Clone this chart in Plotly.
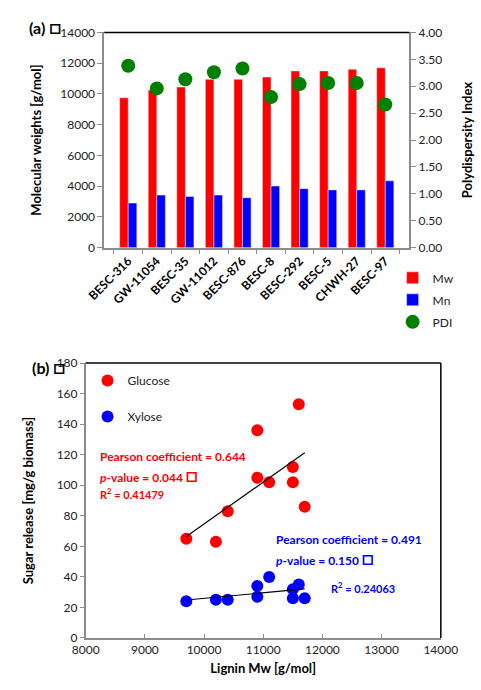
import numpy as np
import plotly.graph_objects as go

# ---------------- data ----------------
samples = ["BESC-316", "GW-11054", "BESC-35", "GW-11012", "BESC-876",
           "BESC-8", "BESC-292", "BESC-5", "CHWH-27", "BESC-97"]
mw = [9750, 10250, 10450, 10950, 10950, 11100, 11500, 11500, 11600, 11700]
mn = [2900, 3420, 3330, 3420, 3250, 4010, 3840, 3760, 3760, 4350]
pdi = [3.38, 2.96, 3.13, 3.26, 3.33, 2.80, 3.04, 3.06, 3.06, 2.66]

lignin_mw = [9700, 10200, 10400, 10900, 10900, 11100, 11500, 11500, 11600, 11700]
glucose = [65, 63, 83, 136, 105, 102, 112, 102, 153, 86]
xylose_x = [9700, 10200, 10400, 10900, 10900, 11100, 11500, 11500, 11600, 11700]
xylose = [24, 25, 25, 34, 27, 40, 32, 26, 35, 26]

FONT = "Lato"
TICKC = "#222222"
AXC = "#8c8c8c"
BOX = '<span style="font-size:20px">□</span>'

fig = go.Figure()

# ---------------- panel (a) ----------------
fig.add_trace(go.Bar(x=samples, y=mw, name="Mw", marker_color="#ff0000",
                     xaxis="x", yaxis="y", legend="legend", legendgroup="a1"))
fig.add_trace(go.Bar(x=samples, y=mn, name="Mn", marker_color="#0000ff",
                     xaxis="x", yaxis="y", legend="legend", legendgroup="a2"))
fig.add_trace(go.Scatter(x=samples, y=pdi, name="PDI", mode="markers",
                         marker=dict(color="#008000", size=14),
                         xaxis="x", yaxis="y2", legend="legend", legendgroup="a3"))

# ---------------- panel (b) ----------------
fig.add_trace(go.Scatter(x=lignin_mw, y=glucose, name="Glucose", mode="markers",
                         marker=dict(color="#ff0000", size=12),
                         xaxis="x3", yaxis="y3", legend="legend2", legendgroup="b1"))
fig.add_trace(go.Scatter(x=xylose_x, y=xylose, name="Xylose", mode="markers",
                         marker=dict(color="#0000ff", size=12),
                         xaxis="x3", yaxis="y3", legend="legend2", legendgroup="b2"))

for xs, ys in [(lignin_mw, glucose), (xylose_x, xylose)]:
    k, b = np.polyfit(xs, ys, 1)
    xl = np.array([min(xs), max(xs)])
    fig.add_trace(go.Scatter(x=xl, y=k * xl + b, mode="lines",
                             line=dict(color="black", width=1.2),
                             showlegend=False, hoverinfo="skip",
                             xaxis="x3", yaxis="y3"))

tickfont = dict(family=FONT, size=12, color=TICKC)
titlefont = dict(family=FONT, size=13, color="black", weight="bold")

fig.update_layout(
    width=481, height=690,
    margin=dict(l=0, r=0, t=0, b=0),
    paper_bgcolor="white", plot_bgcolor="white",
    font=dict(family=FONT, size=12, color=TICKC),
    barmode="group", bargap=0.4, bargroupgap=0,
    xaxis=dict(domain=[93/481, 422/481], anchor="y",
               showline=True, linecolor=AXC, linewidth=1.5,
               ticks="outside", tickson="boundaries", ticklen=5, tickcolor=AXC,
               tickangle=-45, tickfont=dict(family=FONT, size=12, color="black", weight="bold"),
               showgrid=False),
    yaxis=dict(domain=[1-245/690, 1-25/690], anchor="x", range=[0, 14000], dtick=2000,
               tickformat="d",
               showline=True, linecolor=AXC, linewidth=1.5,
               ticks="outside", ticklen=5, tickcolor=AXC, tickfont=tickfont,
               showgrid=False, zeroline=False,
               title=dict(text="Molecular weights [g/mol]", font=titlefont, standoff=16)),
    yaxis2=dict(overlaying="y", side="right", anchor="x", range=[0, 4], dtick=0.5,
                tickformat=".2f",
                showline=True, linecolor=AXC, linewidth=1.5,
                ticks="outside", ticklen=5, tickcolor=AXC, tickfont=tickfont,
                showgrid=False, zeroline=False,
                title=dict(text="Polydispersity Index", font=titlefont, standoff=22)),
    xaxis3=dict(domain=[73/481, 456/481], anchor="y3", range=[8000, 14000], dtick=1000,
                tickformat="d",
                showline=True, linecolor=AXC, linewidth=1.5,
                ticks="inside", ticklen=4, tickcolor=AXC, tickfont=tickfont,
                showgrid=False, zeroline=False,
                title=dict(text="Lignin Mw [g/mol]", font=titlefont, standoff=8)),
    yaxis3=dict(domain=[1-644/690, 1-363/690], anchor="x3", range=[0, 180], dtick=20,
                tickformat="d",
                showline=True, linecolor=AXC, linewidth=1.5,
                ticks="outside", ticklen=4, tickcolor=AXC, tickfont=tickfont,
                showgrid=False, zeroline=False,
                title=dict(text="Sugar release [mg/g biomass]", font=titlefont, standoff=20)),
    legend=dict(x=404/481, y=1-261/690, xanchor="left", yanchor="top",
                font=dict(family=FONT, size=12, color=TICKC),
                bgcolor="rgba(0,0,0,0)", tracegroupgap=3, traceorder="grouped",
                itemwidth=30),
    legend2=dict(x=75/481, y=1-366/690, xanchor="left", yanchor="top",
                 font=dict(family=FONT, size=12, color=TICKC),
                 bgcolor="rgba(0,0,0,0)", tracegroupgap=17, traceorder="grouped",
                 itemwidth=30),
    showlegend=True,
)

# black top / right frame lines
fig.add_shape(type="line", xref="x domain", yref="y domain", x0=0, x1=1, y0=1, y1=1,
              line=dict(color="black", width=1.5))
fig.add_shape(type="line", xref="x3 domain", yref="y3 domain", x0=0, x1=1, y0=1, y1=1,
              line=dict(color="black", width=1.5))
fig.add_shape(type="line", xref="x3 domain", yref="y3 domain", x0=1, x1=1, y0=0, y1=1,
              line=dict(color="black", width=1.5))

def ann(text, x, y, color, size=12, bold=True, xanchor="left"):
    fig.add_annotation(text=text, x=x/481, y=1-y/690, xref="paper", yref="paper",
                       xanchor=xanchor, yanchor="middle", showarrow=False,
                       font=dict(family=FONT, size=size, color=color,
                                 weight="bold" if bold else "normal"))

ann("(a) " + BOX, 10, 18, "black", size=16)
ann("(b) " + BOX, 13, 366, "black", size=16)

ann("Pearson coefficient = 0.644", 86, 458, "#ff0000")
ann("<i>p</i>-value = 0.044 " + BOX, 86, 476, "#ff0000")
ann("R<sup>2</sup> = 0.41479", 86, 496, "#ff0000", size=11)

ann("Pearson coefficient = 0.491", 276, 543, "#0000ff")
ann("<i>p</i>-value = 0.150 " + BOX, 276, 561, "#0000ff")
ann("R<sup>2</sup> = 0.24063", 335, 592, "#0000ff", size=11)

fig.write_html("out.html")
